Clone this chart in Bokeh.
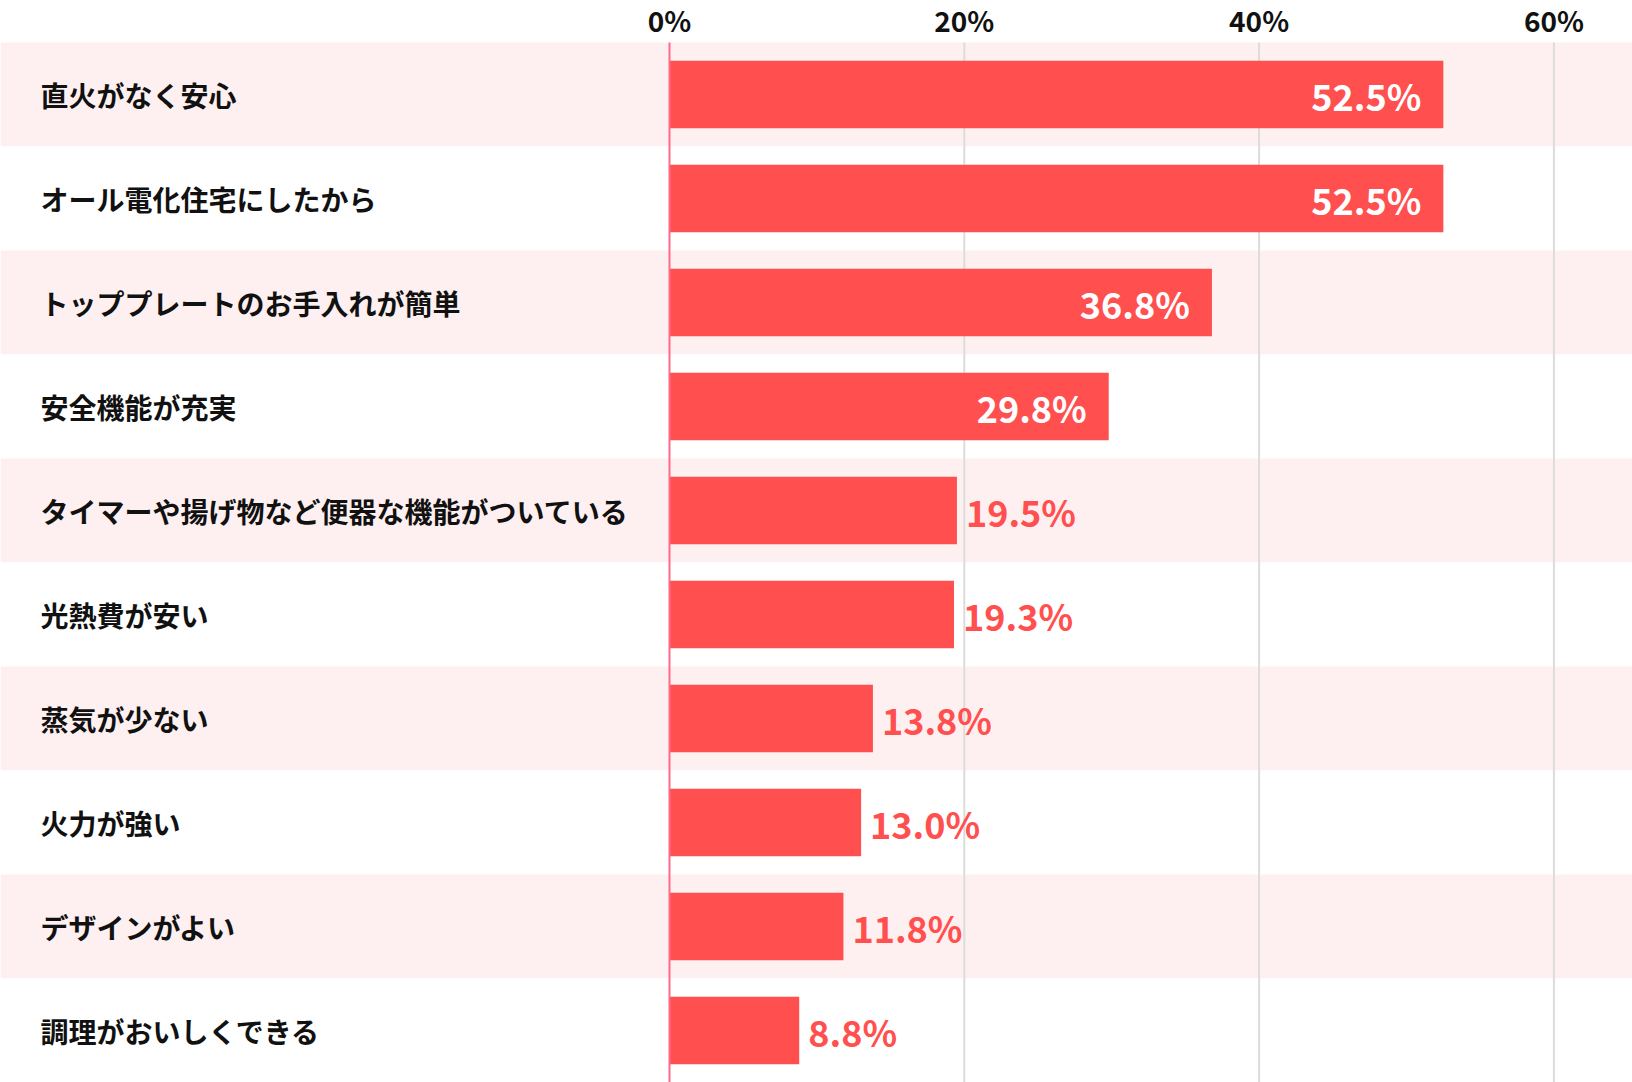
from bokeh.plotting import figure
from bokeh.models import Range1d, ColumnDataSource
from bokeh.core.properties import value
from bokeh.embed import file_html
from bokeh.resources import INLINE

categories = [
    "直火がなく安心",
    "オール電化住宅にしたから",
    "トッププレートのお手入れが簡単",
    "安全機能が充実",
    "タイマーや揚げ物など便器な機能がついている",
    "光熱費が安い",
    "蒸気が少ない",
    "火力が強い",
    "デザインがよい",
    "調理がおいしくできる",
]
values = [52.5, 52.5, 36.8, 29.8, 19.5, 19.3, 13.8, 13.0, 11.8, 8.8]
tick_values = [0, 20, 40, 60]
tick_labels = ["0%", "20%", "40%", "60%"]

FONT = "Noto Sans CJK JP"
W, H = 1632, 1082
SCALE = 14.74         # px per percent
ZERO_PX = 669         # px from figure left to 0%
ROW_PX = 104
HEADER_PX = 42

x_start = -ZERO_PX / SCALE
x_end = (W - ZERO_PX) / SCALE
n = len(categories)
header_rows = HEADER_PX / ROW_PX

p = figure(width=W, height=H, output_backend="svg", toolbar_location=None,
           x_range=Range1d(x_start, x_end),
           y_range=Range1d(n - 0.5, -0.5 - header_rows),
           x_axis_type=None, y_axis_type=None, min_border=0)
p.outline_line_color = None
p.grid.visible = False
p.background_fill_color = "white"
p.border_fill_color = "white"

rows = list(range(n))
band_colors = ["#FEF0F0" if i % 2 == 0 else "#FFFFFF" for i in rows]
p.hbar(y=rows, height=1, left=x_start, right=x_end, fill_color=band_colors, line_color=None)

# gridlines
grid_x = [t for t in tick_values if t != 0]
p.segment(x0=grid_x, x1=grid_x, y0=[-0.5] * len(grid_x), y1=[n - 0.5] * len(grid_x),
          line_color="#DCDCDC", line_width=2)

# bars
p.hbar(y=rows, height=0.65, left=0, right=values, fill_color="#FF4F4F", line_color=None)

# zero line
p.segment(x0=[0], x1=[0], y0=[-0.5], y1=[n - 0.5], line_color="#FF6A8A", line_width=2)

# category labels
p.text(x=[x_start] * n, y=rows, text=categories, x_offset=40,
       text_font=value(FONT), text_font_style="bold", text_font_size="28px",
       text_color="#111111", text_align="left", text_baseline="middle")

# value labels
inside = [v > 25 for v in values]
lbl = [f"{v:.1f}%" for v in values]
src_in = ColumnDataSource(dict(x=[v for v, f in zip(values, inside) if f],
                               y=[r for r, f in zip(rows, inside) if f],
                               t=[l for l, f in zip(lbl, inside) if f]))
src_out = ColumnDataSource(dict(x=[v for v, f in zip(values, inside) if not f],
                                y=[r for r, f in zip(rows, inside) if not f],
                                t=[l for l, f in zip(lbl, inside) if not f]))
p.text(x="x", y="y", text="t", source=src_in, x_offset=-22,
       text_font=value(FONT), text_font_style="bold", text_font_size="36px",
       text_color="white", text_align="right", text_baseline="middle")
p.text(x="x", y="y", text="t", source=src_out, x_offset=9,
       text_font=value(FONT), text_font_style="bold", text_font_size="36px",
       text_color="#FF4F4F", text_align="left", text_baseline="middle")

# tick labels
p.text(x=tick_values, y=[-0.5 - header_rows / 2] * len(tick_values), text=tick_labels,
       y_offset=-2,
       text_font=value(FONT), text_font_style="bold", text_font_size="28px",
       text_color="#111111", text_align="center", text_baseline="middle")

open("out.html", "w").write(file_html(p, INLINE))
